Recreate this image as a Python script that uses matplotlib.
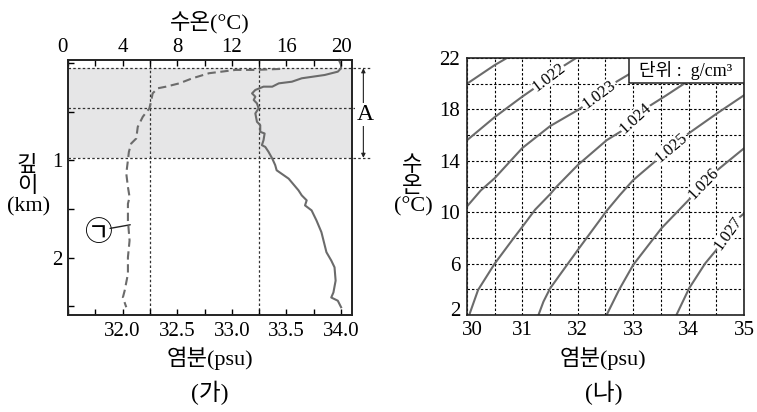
import matplotlib
matplotlib.use('Agg')
import matplotlib.pyplot as plt
from matplotlib.ticker import MultipleLocator
from matplotlib.patches import Rectangle
from matplotlib.transforms import ScaledTranslation
import numpy as np

plt.rcParams['font.family'] = ['Liberation Serif', 'Noto Sans CJK KR']

# (가) water temperature profile (top axis, °C) - dashed
temp_depth = [0.062, 0.072, 0.072, 0.106, 0.158, 0.21, 0.244, 0.261, 0.313, 0.399, 0.467,
              0.553, 0.657, 0.776, 0.828, 0.914, 1.0, 1.137, 1.275, 1.378, 1.447, 1.62,
              1.825, 1.997, 2.168, 2.34, 2.41, 2.51]
temp_val = [15.54, 13.72, 12.27, 10.33, 9.11, 8.15, 7.18, 6.57, 6.2, 6.08, 5.96,
            5.48, 5.11, 5.0, 4.63, 4.46, 4.39, 4.27, 4.39, 4.51, 4.39, 4.39,
            4.51, 4.39, 4.39, 4.15, 4.02, 4.27]

# (가) salinity profile (bottom axis, psu) - solid
sal_depth = [-0.03, 0.02, 0.055, 0.09, 0.124, 0.158, 0.193, 0.21, 0.244, 0.244, 0.278,
             0.313, 0.347, 0.381, 0.416, 0.467, 0.519, 0.605, 0.639, 0.708, 0.725, 0.794,
             0.845, 0.863, 0.914, 0.983, 1.05, 1.103, 1.189, 1.309, 1.361, 1.412, 1.464,
             1.515, 1.619, 1.739, 1.945, 2.03, 2.1, 2.237, 2.358, 2.41, 2.443, 2.51]
sal_val = [33.98, 34.0, 34.0, 33.97, 33.85, 33.64, 33.55, 33.43, 33.37, 33.29, 33.215,
           33.185, 33.215, 33.2, 33.23, 33.245, 33.215, 33.23, 33.26, 33.26, 33.3, 33.29,
           33.275, 33.306, 33.336, 33.37, 33.397, 33.41, 33.52, 33.61, 33.64, 33.685, 33.67,
           33.73, 33.775, 33.82, 33.866, 33.91, 33.94, 33.95, 33.93, 33.91, 33.97, 34.0]

layer_depths = [0.055, 0.467, 0.975]
guide_sal = [32.25, 33.25]

sal_ticks = [32.0, 32.5, 33.0, 33.5, 34.0]
temp_ticks = [0, 4, 8, 12, 16, 20]
depth_ticks = [1, 2]

# (나) density lines, traced (salinity, temperature); lower part / part after the label
dens_levels = ['1.021', '1.022', '1.023', '1.024', '1.025', '1.026', '1.027']
dens_low_s = [[30.0, 30.5, 30.72],
              [30.0, 30.5, 31.0, 31.2],
              [30.0, 30.25, 30.5, 31.0, 31.5, 32.0, 32.07],
              [30.04, 30.2, 30.5, 30.84, 31.0, 31.23, 31.5, 31.62, 32.0, 32.52, 32.67, 32.82],
              [31.29, 31.38, 31.5, 31.68, 32.0, 32.52, 32.76, 33.0, 33.39],
              [32.52, 32.75, 33.0, 33.51, 34.03],
              [33.78, 34.01, 34.3, 34.5]]
dens_low_t = [[20.0, 21.45, 22.0],
              [15.6, 17.4, 19.0, 19.6],
              [10.45, 11.7, 12.65, 15.0, 16.7, 17.95, 18.15],
              [2.0, 3.95, 6.0, 7.97, 8.87, 10.2, 11.4, 12.0, 13.67, 15.6, 16.0, 16.4],
              [2.0, 3.04, 4.07, 5.15, 7.06, 10.1, 11.34, 12.5, 13.93],
              [2.0, 4.0, 5.9, 8.75, 11.08],
              [2.0, 4.08, 6.02, 7.06]]
dens_up_s = [[], [31.75, 31.97], [32.7, 32.95, 33.3], [33.27, 33.6, 33.9, 34.3],
             [33.99, 34.5, 35.0], [34.52, 35.0], [34.93, 35.0]]
dens_up_t = [[], [21.4, 22.0], [20.16, 20.8, 21.7], [18.2, 19.1, 19.95, 21.0],
             [16.1, 17.65, 19.1], [13.28, 14.97], [9.65, 9.9]]

curve_c = '#6b6b6b'
fs = 15

fig = plt.figure(figsize=(7.57, 4.12), dpi=100)

# ---------- (가) ----------
ax = fig.add_axes([0.0898, 0.2354, 0.3752, 0.619])
ax.set_xlim(31.5, 34.1)
ax.set_ylim(2.59, -0.03)
ax.axhspan(layer_depths[0], layer_depths[2], color='#e6e6e7', lw=0, zorder=0)
for d in layer_depths:
    ax.plot([0, 1.07], [d, d], transform=ax.get_yaxis_transform(), clip_on=False,
            color='#333333', lw=0.9, ls=(0, (2, 1.8)), zorder=1)
for s in guide_sal:
    ax.axvline(s, color='#333333', lw=0.9, ls=(0, (2, 1.8)), zorder=1)
ax.plot(sal_val, sal_depth, color=curve_c, lw=1.5, zorder=3, clip_on=False)

ax.set_xticks(sal_ticks)
ax.set_xticklabels(['%.1f' % v for v in sal_ticks])
ax.xaxis.set_minor_locator(MultipleLocator(0.25))
ax.set_yticks(depth_ticks)
ax.set_yticklabels([str(v) for v in depth_ticks])
ax.yaxis.set_minor_locator(MultipleLocator(0.5))
ax.tick_params(which='both', direction='in', length=4, width=1, labelsize=fs)
ax.tick_params(axis='x', pad=5)
ax.tick_params(axis='y', pad=4)

ax2 = ax.twiny()
ax2.set_xlim(0, 20.8)
ax2.plot(temp_val, temp_depth, color=curve_c, lw=1.5, ls=(0, (4, 2.2)), zorder=3)
ax2.set_xticks(temp_ticks)
ax2.set_xticklabels([str(v) for v in temp_ticks])
ax2.xaxis.set_minor_locator(MultipleLocator(2))
ax2.tick_params(which='both', direction='in', length=4, width=1, labelsize=fs, pad=2)
ax2.xaxis.get_major_ticks()[0].label2.set_horizontalalignment('right')
for a in (ax, ax2):
    for sp in a.spines.values():
        sp.set_linewidth(1.2)
        sp.set_color('#222222')

# bracket A
ax.annotate('', xy=(1.04, layer_depths[0]), xytext=(1.04, layer_depths[2]),
            xycoords=ax.get_yaxis_transform(), textcoords=ax.get_yaxis_transform(),
            arrowprops=dict(arrowstyle='<|-|>', lw=0.8, color='#222222',
                            mutation_scale=6, shrinkA=0, shrinkB=0))
ax.text(1.045, 0.53, 'A', transform=ax.get_yaxis_transform(), fontsize=17,
        ha='center', va='center', clip_on=False,
        bbox=dict(facecolor='white', edgecolor='none', pad=1))

# label ㉠ with its leader to the dashed curve
ax.text(31.777, 1.745, '㉠', fontsize=20, ha='center', va='center',
        family=['Noto Sans CJK KR'])
ax.annotate('', xy=(32.07, 1.663), xytext=(31.885, 1.70),
            arrowprops=dict(arrowstyle='-', lw=1, color='#222222', shrinkA=0, shrinkB=0))

fig.text(0.277, 0.946, '수온(°C)', ha='center', va='center', fontsize=16)
fig.text(0.277, 0.131, '염분(psu)', ha='center', va='center', fontsize=16)
fig.text(0.277, 0.046, '(가)', ha='center', va='center', fontsize=17)
fig.text(0.036, 1 - 166 / 412, '깊', ha='center', va='center', fontsize=16)
fig.text(0.036, 1 - 187 / 412, '이', ha='center', va='center', fontsize=16)
fig.text(0.038, 1 - 207 / 412, '(km)', ha='center', va='center', fontsize=16)

# ---------- (나) ----------
bx = fig.add_axes([0.6169, 0.2354, 0.3659, 0.6238])
bx.set_xlim(30, 35)
bx.set_ylim(2, 22)
bx.set_xticks(range(30, 36))
bx.set_yticks(range(2, 23, 4))
bx.xaxis.set_minor_locator(MultipleLocator(0.5))
bx.yaxis.set_minor_locator(MultipleLocator(2))
bx.grid(which='both', color='black', lw=0.8, ls=(0, (2.2, 1.8)), zorder=1)
bx.tick_params(which='both', length=0, labelsize=fs)
bx.tick_params(axis='x', pad=4)
bx.tick_params(axis='y', pad=5)
for sp in bx.spines.values():
    sp.set_linewidth(1.2)
    sp.set_color('#222222')
    sp.set_zorder(5)

for i, lev in enumerate(dens_levels):
    bx.plot(dens_low_s[i], dens_low_t[i], color=curve_c, lw=1.5, zorder=3)
    if dens_up_s[i]:
        bx.plot(dens_up_s[i], dens_up_t[i], color=curve_c, lw=1.5, zorder=3)
        p0 = bx.transData.transform((dens_low_s[i][-1], dens_low_t[i][-1]))
        p1 = bx.transData.transform((dens_up_s[i][0], dens_up_t[i][0]))
        ang = np.degrees(np.arctan2(p1[1] - p0[1], p1[0] - p0[0]))
        mx = (dens_low_s[i][-1] + dens_up_s[i][0]) / 2
        my = (dens_low_t[i][-1] + dens_up_t[i][0]) / 2
        bx.text(mx, my, lev, rotation=ang, rotation_mode='anchor', ha='center',
                va='center', fontsize=12, zorder=4,
                bbox=dict(facecolor='white', edgecolor='none', pad=0.3))

bx.add_patch(Rectangle((0.585, 0.902), 0.415, 0.098, transform=bx.transAxes,
                       facecolor='white', edgecolor='#222222', lw=1.1, zorder=6))
bx.text(0.79, 0.951, '단위 :  g/cm³', transform=bx.transAxes, ha='center',
        va='center', fontsize=13, zorder=7)

fig.text(0.797, 0.131, '염분(psu)', ha='center', va='center', fontsize=16)
fig.text(0.797, 0.046, '(나)', ha='center', va='center', fontsize=17)
fig.text(412 / 757, 1 - 166 / 412, '수', ha='center', va='center', fontsize=16)
fig.text(412 / 757, 1 - 187 / 412, '온', ha='center', va='center', fontsize=16)
fig.text(413 / 757, 1 - 207 / 412, '(°C)', ha='center', va='center', fontsize=16)

# keep the corner labels "2" and "30" apart, as in the original
lab2 = bx.yaxis.get_major_ticks()[0].label1
lab2.set_transform(lab2.get_transform() + ScaledTranslation(0, 4 / 72, fig.dpi_scale_trans))
lab30 = bx.xaxis.get_major_ticks()[0].label1
lab30.set_transform(lab30.get_transform() + ScaledTranslation(4 / 72, 0, fig.dpi_scale_trans))

fig.savefig('out.png', dpi=100)
